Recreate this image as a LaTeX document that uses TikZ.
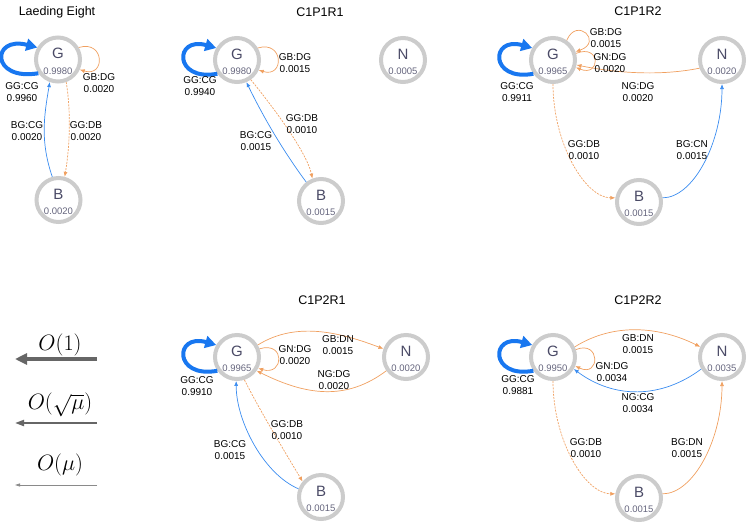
\documentclass[tikz,border=0pt]{standalone}
\usepackage{fontspec}
\setmainfont{Liberation Sans}
\usetikzlibrary{arrows.meta}
\definecolor{ringgray}{HTML}{CCCCCC}
\definecolor{nodetxt}{HTML}{4A4A66}
\definecolor{eblue}{HTML}{1877F0}
\definecolor{tblue}{HTML}{3A8CF0}
\definecolor{eorange}{HTML}{F0A060}
\definecolor{leggray}{HTML}{666666}
\definecolor{leglight}{HTML}{8A8A8A}
\begin{document}
\begin{tikzpicture}[x=1pt,y=-1pt,
 ring/.style={circle,draw=ringgray,line width=4pt,minimum size=44pt,inner sep=0pt},
 ltr/.style={inner sep=0pt,text=nodetxt,font=\fontsize{15}{15}\selectfont},
 num/.style={inner sep=0pt,text=nodetxt!85,font=\fontsize{9.5}{10}\selectfont},
 lbl/.style={inner sep=0pt,align=center,font=\fontsize{10}{12}\selectfont},
 ttl/.style={inner sep=0pt,font=\fontsize{12.5}{14}\selectfont},
 leg/.style={inner sep=0pt,font=\fontsize{20.74}{25}\selectfont},
 bigloop/.style={draw=eblue,line width=4pt,-{Triangle[length=11pt,width=12pt]}},
 be/.style={draw=tblue,line width=0.7pt,-{Latex[length=5pt,width=4pt]}},
 oe/.style={draw=eorange,line width=0.7pt,-{Latex[length=5pt,width=4pt]}},
 od/.style={oe,dash pattern=on 2pt off 1.2pt},
]
\useasboundingbox (0,0) rectangle (747,523);

% ---------- Panel 1: Laeding Eight ----------
\node[ttl] (t1) at (57,12) {Laeding Eight};
\node[ring] (G1) at (58,59.5) {};
\node[ltr] (G1a) at ([yshift=6pt]G1.center) {G};
\node[num] (G1b) at ([yshift=-11.5pt]G1.center) {0.9980};
\node[ring] (B1) at (58.5,200) {};
\node[ltr] (B1a) at ([yshift=6pt]B1.center) {B};
\node[num] (B1b) at ([yshift=-11.5pt]B1.center) {0.0020};
\draw[bigloop] (G1.215) .. controls +(-48,8) and +(-46,-12) .. (G1.150);
\draw[oe] (G1.30) .. controls +(26,-8) and +(26,8) .. (G1.-25);
\draw[od] (G1.-70) .. controls +(5,30) and +(5,-30) .. (B1.75);
\draw[be] (B1.105) .. controls +(-12,-35) and +(-6,35) .. (G1.-110);
\node[lbl] (L1a) at (22,92.5) {GG:CG\\0.9960};
\node[lbl] (L1b) at (99,83) {GB:DG\\0.0020};
\node[lbl] (L1c) at (86,131.5) {GG:DB\\0.0020};
\node[lbl] (L1d) at (27,131.5) {BG:CG\\0.0020};

% ---------- Panel 2: C1P1R1 ----------
\node[ttl] (t2) at (320,12) {C1P1R1};
\node[ring] (G2) at (237,60) {};
\node[ltr] (G2a) at ([yshift=6pt]G2.center) {G};
\node[num] (G2b) at ([yshift=-11.5pt]G2.center) {0.9980};
\node[ring] (B2) at (321,201) {};
\node[ltr] (B2a) at ([yshift=6pt]B2.center) {B};
\node[num] (B2b) at ([yshift=-11.5pt]B2.center) {0.0015};
\node[ring] (N2) at (403,60) {};
\node[ltr] (N2a) at ([yshift=6pt]N2.center) {N};
\node[num] (N2b) at ([yshift=-11.5pt]N2.center) {0.0005};
\draw[bigloop] (G2.215) .. controls +(-44,8) and +(-42,-12) .. (G2.150);
\draw[oe] (G2.30) .. controls +(26,-8) and +(26,8) .. (G2.-25);
\draw[od] (G2.-55) .. controls +(18,22) and +(-6,-28) .. (B2.111);
\draw[be] (B2.128) .. controls +(-23,-31) and +(17,35) .. (G2.-67);
\node[lbl] (L2a) at (200,86) {GG:CG\\0.9940};
\node[lbl] (L2b) at (295,63.5) {GB:DG\\0.0015};
\node[lbl] (L2c) at (302,124) {GG:DB\\0.0010};
\node[lbl] (L2d) at (256,141.5) {BG:CG\\0.0015};

% ---------- Panel 3: C1P1R2 ----------
\node[ttl] (t3) at (638,11) {C1P1R2};
\node[ring] (G3) at (553,60) {};
\node[ltr] (G3a) at ([yshift=6pt]G3.center) {G};
\node[num] (G3b) at ([yshift=-11.5pt]G3.center) {0.9965};
\node[ring] (N3) at (722,60) {};
\node[ltr] (N3a) at ([yshift=6pt]N3.center) {N};
\node[num] (N3b) at ([yshift=-11.5pt]N3.center) {0.0020};
\node[ring] (B3) at (639,202) {};
\node[ltr] (B3a) at ([yshift=6pt]B3.center) {B};
\node[num] (B3b) at ([yshift=-11.5pt]B3.center) {0.0015};
\draw[bigloop] (G3.215) .. controls +(-44,8) and +(-42,-12) .. (G3.150);
\draw[oe] (G3.55) .. controls +(10,-24) and +(28,-10) .. (G3.20);
\draw[oe] (G3.16) .. controls +(25,-10) and +(25,10) .. (G3.-18);
\draw[oe] (N3.-160) .. controls +(-40,8) and +(40,8) .. (G3.-12);
\draw[od] (G3.-90) .. controls +(0,60) and +(-30,0) .. (B3.170);
\draw[be] (B3.10) .. controls +(30,0) and +(0,60) .. (N3.-90);
\node[lbl] (L3a) at (517,92) {GG:CG\\0.9911};
\node[lbl] (L3b) at (606,38.5) {GB:DG\\0.0015};
\node[lbl] (L3c) at (610,63) {GN:DG\\0.0020};
\node[lbl] (L3d) at (638,92) {NG:DG\\0.0020};
\node[lbl] (L3e) at (584,150) {GG:DB\\0.0010};
\node[lbl] (L3f) at (692,150) {BG:CN\\0.0015};

% ---------- Legend ----------
\node[leg] (o1) at (60,345) {\scalebox{1.07}{$O(1)$}};
\coordinate (a1s) at (97,359); \coordinate (a1e) at (15,359);
\draw[leggray,line width=4pt,-{Triangle[length=12pt,width=11pt]}] (a1s) -- (a1e);
\node[leg] (o2) at (60,405) {\scalebox{1.07}{$O(\sqrt{\mu})$}};
\coordinate (a2s) at (97,423); \coordinate (a2e) at (15,423);
\draw[leggray,line width=2pt,-{Triangle[length=9pt,width=6pt]}] (a2s) -- (a2e);
\node[leg] (o3) at (60,465) {\scalebox{1.07}{$O(\mu)$}};
\coordinate (a3s) at (97,485); \coordinate (a3e) at (15,485);
\draw[leglight,line width=0.8pt,-{Triangle[length=5pt,width=3pt]}] (a3s) -- (a3e);

% ---------- Panel 5: C1P2R1 ----------
\node[ttl] (t5) at (322,300) {C1P2R1};
\node[ring] (G5) at (237,357) {};
\node[ltr] (G5a) at ([yshift=6pt]G5.center) {G};
\node[num] (G5b) at ([yshift=-11.5pt]G5.center) {0.9965};
\node[ring] (N5) at (406,357) {};
\node[ltr] (N5a) at ([yshift=6pt]N5.center) {N};
\node[num] (N5b) at ([yshift=-11.5pt]N5.center) {0.0020};
\node[ring] (B5) at (321,497) {};
\node[ltr] (B5a) at ([yshift=6pt]B5.center) {B};
\node[num] (B5b) at ([yshift=-11.5pt]B5.center) {0.0015};
\draw[bigloop] (G5.215) .. controls +(-44,8) and +(-42,-12) .. (G5.150);
\draw[oe] (G5.20) .. controls +(26,-8) and +(26,8) .. (G5.-28);
\draw[oe] (G5.30) .. controls +(40,-25) and +(-40,-15) .. (N5.160);
\draw[oe] (N5.-145) .. controls +(-40,30) and +(50,25) .. (G5.-35);
\draw[od] (G5.-72) .. controls +(15,30) and +(-15,-25) .. (B5.140);
\draw[be] (B5.160) .. controls +(-35,-15) and +(0,40) .. (G5.-92);
\node[lbl] (L5a) at (197,386) {GG:CG\\0.9910};
\node[lbl] (L5b) at (295,355) {GN:DG\\0.0020};
\node[lbl] (L5c) at (338,345.5) {GB:DN\\0.0015};
\node[lbl] (L5d) at (334,380) {NG:DG\\0.0020};
\node[lbl] (L5e) at (287,430) {GG:DB\\0.0010};
\node[lbl] (L5f) at (230,450) {BG:CG\\0.0015};

% ---------- Panel 6: C1P2R2 ----------
\node[ttl] (t6) at (638,300) {C1P2R2};
\node[ring] (G6) at (553,357) {};
\node[ltr] (G6a) at ([yshift=6pt]G6.center) {G};
\node[num] (G6b) at ([yshift=-11.5pt]G6.center) {0.9950};
\node[ring] (N6) at (722,357) {};
\node[ltr] (N6a) at ([yshift=6pt]N6.center) {N};
\node[num] (N6b) at ([yshift=-11.5pt]N6.center) {0.0035};
\node[ring] (B6) at (639,498) {};
\node[ltr] (B6a) at ([yshift=6pt]B6.center) {B};
\node[num] (B6b) at ([yshift=-11.5pt]B6.center) {0.0015};
\draw[bigloop] (G6.215) .. controls +(-44,8) and +(-42,-12) .. (G6.150);
\draw[oe] (G6.25) .. controls +(40,-25) and +(-40,-20) .. (N6.155);
\draw[oe] (G6.18) .. controls +(25,-10) and +(25,12) .. (G6.-22);
\draw[be] (N6.-150) .. controls +(-40,30) and +(40,30) .. (G6.-30);
\draw[od] (G6.-90) .. controls +(0,60) and +(-30,0) .. (B6.170);
\draw[oe] (B6.10) .. controls +(30,0) and +(0,60) .. (N6.-90);
\node[lbl] (L6a) at (518,385) {GG:CG\\0.9881};
\node[lbl] (L6b) at (638,344.5) {GB:DN\\0.0015};
\node[lbl] (L6c) at (612,372.5) {GN:DG\\0.0034};
\node[lbl] (L6d) at (638,403) {NG:CG\\0.0034};
\node[lbl] (L6e) at (586,448.5) {GG:DB\\0.0010};
\node[lbl] (L6f) at (687,448.5) {BG:DN\\0.0015};
\end{tikzpicture}
\end{document}
